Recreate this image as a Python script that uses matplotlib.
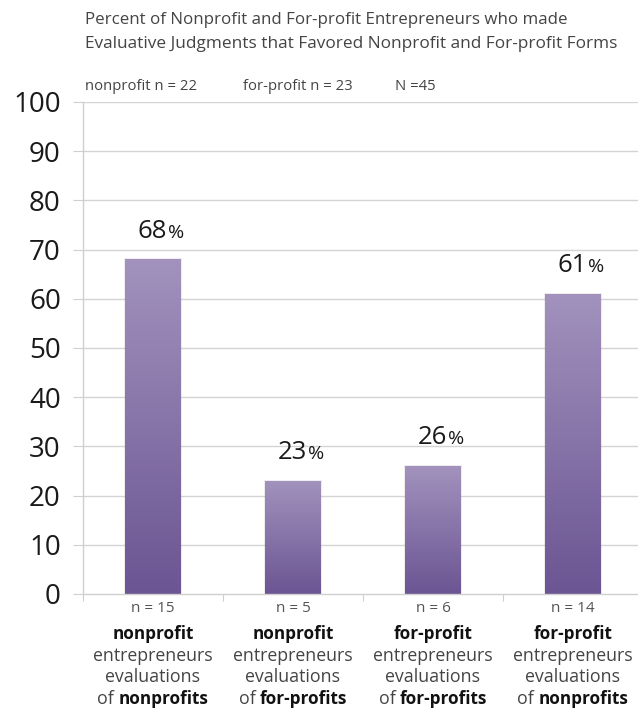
import matplotlib
matplotlib.use("Agg")
import matplotlib.pyplot as plt
import numpy as np
from matplotlib.colors import LinearSegmentedColormap

values = [68, 23, 26, 61]
n_labels = ["n = 15", "n = 5", "n = 6", "n = 14"]
group_word = ["nonprofit", "nonprofit", "for-profit", "for-profit"]
target_word = ["nonprofits", "for-profits", "for-profits", "nonprofits"]
yticks = [0, 10, 20, 30, 40, 50, 60, 70, 80, 90, 100]
title_lines = ["Percent of Nonprofit and For-profit Entrepreneurs who made",
               "Evaluative Judgments that Favored Nonprofit and For-profit Forms"]
sample_texts = ["nonprofit n = 22", "for-profit n = 23", "N =45"]

FONT = "Open Sans"
plt.rcParams['font.family'] = [FONT, 'DejaVu Sans']

W, H = 638, 721
fig = plt.figure(figsize=(W / 100, H / 100), dpi=100)

left_px, right_px, top_px, bot_px = 83, 643, 102, 594
ax = fig.add_axes([left_px / W, 1 - bot_px / H, (right_px - left_px) / W, (bot_px - top_px) / H])
ax.set_xlim(-0.5, 3.5)
ax.set_ylim(0, 100)

# grid
for y in yticks[1:]:
    ax.axhline(y, color="#d4d4d4", lw=1.0, zorder=0)

cmap = LinearSegmentedColormap.from_list("bar", ["#6b5593", "#a292bd"])
grad = np.linspace(0, 1, 256).reshape(-1, 1)
x = np.arange(len(values))
bars = ax.bar(x, values, width=0.4, color="none", edgecolor="none", zorder=2)
for b, v in zip(bars, values):
    x0 = b.get_x()
    w = b.get_width()
    sh = plt.Rectangle((x0 - 0.006, 0), w + 0.012, v + 0.25, color="#000000", alpha=0.07, zorder=1.5, lw=0)
    ax.add_patch(sh)
    im = ax.imshow(grad, extent=[x0, x0 + w, 0, v], origin="lower", cmap=cmap,
                   aspect="auto", zorder=2, interpolation="bicubic")
    im.set_clip_path(b)
    cx = b.get_x() + w / 2 + 0.1
    ax.text(cx, v + 4.4, f"{v}", ha="right", va="baseline",
            fontsize=18.5, color="#1a1a1a")
    ax.text(cx + 0.005, v + 4.4, "%", ha="left", va="baseline",
            fontsize=14, color="#1a1a1a")
ax.set_xlim(-0.5, 3.5)
ax.set_ylim(0, 100)

for s in ["top", "right"]:
    ax.spines[s].set_visible(False)
ax.spines["left"].set_color("#cfcfcf")
ax.spines["bottom"].set_color("#cfcfcf")
ax.spines["left"].set_linewidth(1.0)
ax.spines["bottom"].set_linewidth(1.0)

ax.set_yticks(yticks)
ax.set_yticklabels([str(t) for t in yticks], fontsize=20, color="#1a1a1a")
ax.tick_params(axis="y", length=7, color="#cfcfcf", pad=9)
ax.set_xticks(np.arange(-0.5, 3.5, 1.0))
ax.set_xticklabels([])
ax.tick_params(axis="x", length=5, color="#cfcfcf", direction="out")

# category labels below axis
FS = 12.8
for i in range(len(values)):
    xf = (left_px + (i + 0.5) * 140) / W
    fig.text(xf, 1 - 608 / H, n_labels[i], ha="center", va="center", fontsize=11, color="#555555")
    fig.text(xf, 1 - 634 / H, group_word[i], ha="center", va="center", fontsize=12.3,
             color="#111111", fontweight="bold")
    fig.text(xf, 1 - 656 / H, "entrepreneurs", ha="center", va="center", fontsize=FS, color="#444444")
    fig.text(xf, 1 - 677 / H, "evaluations", ha="center", va="center", fontsize=FS, color="#444444")
    t1 = fig.text(0, 1 - 699 / H, "of ", ha="left", va="center", fontsize=FS, color="#444444")
    t2 = fig.text(0, 1 - 699 / H, target_word[i], ha="left", va="center", fontsize=12.3,
                  color="#111111", fontweight="bold")
    fig.canvas.draw()
    r = fig.canvas.get_renderer()
    w1 = t1.get_window_extent(r).width
    w2 = t2.get_window_extent(r).width
    start = xf * W - (w1 + w2) / 2
    t1.set_x(start / W)
    t2.set_x((start + w1) / W)

# title
fig.text(85 / W, 1 - 20 / H, title_lines[0], ha="left", va="center", fontsize=12.2, color="#444444")
fig.text(85 / W, 1 - 44 / H, title_lines[1], ha="left", va="center", fontsize=12.4, color="#444444")
for xs, s in zip([85, 243, 395], sample_texts):
    fig.text(xs / W, 1 - 86 / H, s, ha="left", va="center", fontsize=10.7, color="#444444")

fig.savefig("out.png", dpi=100)
